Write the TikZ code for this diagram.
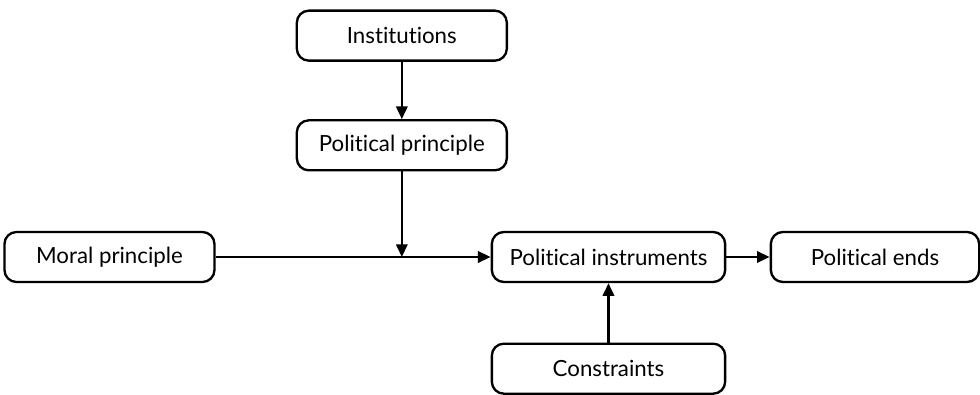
\documentclass[tikz,border=0pt]{standalone}
\usepackage{fontspec}
\setmainfont{Lato}[Ligatures=NoCommon]
\usetikzlibrary{arrows.meta, positioning}
\tikzset{
  box/.style={draw, rounded corners=0.36cm, line width=2pt, align=center, minimum height=1.5cm,
    font=\fontsize{19}{22}\selectfont},
  pfeil/.style={-{Triangle[length=0.38cm, width=0.34cm]}, line width=2pt},
}
\begin{document}
\begin{tikzpicture}
    \useasboundingbox (-18.255,-4.11) rectangle (11.145,7.71);
    \node[box, minimum width=7cm] (PI) at (0,0) {Political instruments};
    \node[box, minimum width=6.3cm, left=8.25cm of PI] (M) {Moral principle};
    \node[box, minimum width=6.25cm, right=1.3cm of PI] (E) {Political ends};
    \node[box, minimum width=7cm, below=1.78cm of PI] (C) {Constraints};
    \node[box, minimum width=6.3cm, above=1.78cm of PI, xshift=-6.2cm] (P) {Political principle};
    \node[box, minimum width=6.3cm, above=1.72cm of P] (I) {Institutions};
    \coordinate (J) at (P |- M);

    \draw[pfeil] (I) -- (P);
    \draw[pfeil] (P) -- (J);
    \draw[pfeil] (M) -- (PI);
    \draw[pfeil] (PI) -- (E);
    \draw[pfeil] (C) -- (PI);
  \end{tikzpicture}
\end{document}
